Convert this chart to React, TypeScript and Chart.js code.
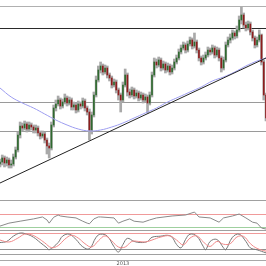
import React, { useEffect, useRef } from "react";
import { Chart, registerables } from "chart.js";

Chart.register(...registerables);

// price units (arbitrary), one candle per session
const OPEN = [36, 38, 42, 37, 40, 35, 36, 43, 50, 65, 74, 72, 76, 71, 75, 73, 70, 72, 67, 64, 66, 60, 54, 52, 75, 92, 96, 100, 94, 98, 102, 97, 100, 93, 95, 90, 96, 94, 99, 92, 88, 70, 85, 105, 120, 130, 134, 128, 132, 125, 122, 115, 118, 110, 105, 100, 115, 125, 108, 105, 110, 104, 107, 102, 105, 100, 103, 97, 105, 125, 138, 135, 140, 132, 136, 130, 134, 128, 132, 138, 142, 148, 152, 155, 150, 156, 160, 154, 158, 150, 142, 138, 142, 145, 150, 148, 152, 145, 150, 142, 132, 140, 155, 160, 162, 167, 164, 170, 180, 185, 175, 172, 176, 168, 162, 155, 160, 165, 138, 105];
const CLOSE = [38, 42, 37, 40, 35, 36, 43, 50, 65, 74, 72, 76, 71, 75, 73, 70, 72, 67, 64, 66, 60, 54, 52, 75, 92, 96, 100, 94, 98, 102, 97, 100, 93, 95, 90, 96, 94, 99, 92, 88, 70, 85, 105, 120, 130, 134, 128, 132, 125, 122, 115, 118, 110, 105, 100, 115, 125, 108, 105, 110, 104, 107, 102, 105, 100, 103, 97, 105, 125, 138, 135, 140, 132, 136, 130, 134, 128, 132, 138, 142, 148, 152, 155, 150, 156, 160, 154, 158, 150, 142, 138, 142, 145, 150, 148, 152, 145, 150, 142, 132, 140, 155, 160, 162, 167, 164, 170, 180, 185, 175, 172, 176, 168, 162, 155, 160, 165, 138, 105, 82];
const HIGH = [41, 45, 44, 43, 42, 40, 46, 53, 68, 78, 77, 79, 78, 78, 77, 75, 75, 74, 69, 69, 68, 62, 57, 78, 95, 100, 104, 102, 101, 106, 104, 103, 102, 98, 97, 99, 98, 102, 101, 94, 91, 88, 108, 124, 134, 138, 136, 135, 134, 127, 124, 121, 120, 112, 107, 118, 131, 127, 111, 113, 112, 110, 109, 108, 107, 106, 105, 108, 128, 142, 141, 143, 142, 139, 138, 137, 136, 135, 141, 145, 151, 155, 158, 157, 159, 163, 162, 167, 160, 152, 144, 145, 148, 153, 152, 155, 154, 153, 152, 144, 143, 158, 163, 166, 170, 169, 174, 184, 193, 187, 178, 179, 178, 170, 164, 163, 170, 166, 140, 107];
const LOW = [33, 35, 33, 34, 32, 32, 34, 41, 48, 62, 69, 70, 68, 69, 70, 67, 67, 64, 61, 62, 57, 46, 42, 50, 73, 89, 94, 91, 92, 96, 94, 95, 90, 90, 87, 88, 91, 92, 89, 85, 60, 66, 83, 103, 118, 127, 125, 126, 122, 119, 112, 113, 107, 100, 88, 98, 113, 104, 102, 103, 101, 102, 99, 100, 97, 98, 87, 95, 103, 123, 132, 133, 129, 130, 127, 128, 125, 126, 130, 136, 140, 146, 150, 147, 148, 154, 151, 152, 147, 139, 135, 136, 140, 143, 145, 146, 142, 143, 139, 128, 130, 138, 153, 157, 160, 161, 162, 168, 176, 172, 169, 170, 165, 159, 152, 153, 158, 135, 100, 79];

// moving average read at every 5th session
const MA_POINTS: [number, number][] = [
  [0, 112], [5, 103], [10, 97], [15, 92], [20, 86], [25, 80], [30, 75], [35, 71], [40, 69], [45, 70],
  [50, 73], [55, 77], [60, 82], [65, 87], [70, 92], [75, 98], [80, 103], [85, 108], [90, 113], [95, 119],
  [100, 123], [105, 128], [110, 134], [115, 139], [119, 142],
];
const TREND = [17, 142]; // trendline value at first and last session
const PRICE_LEVELS = [68, 98, 172, 194];
const PRICE_LEVEL_COLORS = ["#9a9a9a", "#9a9a9a", "#2a2a2a", "#b0b0b0"];

const RSI_POINTS: [number, number][] = [
  [0, 33], [4, 42], [9, 48], [15, 55], [19, 61], [21, 52], [22, 42], [24, 60], [26, 67], [27, 64], [30, 61],
  [34, 58], [37, 48], [39, 42], [40, 40], [42, 55], [44, 61], [45, 61], [51, 58], [53, 42], [55, 48],
  [58, 55], [60, 48], [64, 45], [67, 52], [70, 58], [77, 64], [83, 67], [87, 76], [89, 61], [94, 58],
  [98, 45], [100, 58], [104, 64], [107, 70], [110, 58], [113, 45], [115, 42], [117, 27], [119, 24],
];
const RSI_LEVELS = [30, 70];
const RSI_RANGE = [21, 113];

const STOCH_K_POINTS: [number, number][] = [
  [0, 46], [3, 50], [6, 69], [9, 80], [12, 76], [15, 65], [18, 46], [21, 27], [22, 20], [26, 46], [28, 69],
  [31, 76], [34, 57], [37, 31], [40, 24], [43, 65], [45, 76], [48, 69], [51, 31], [53, 12], [55, 39],
  [57, 61], [60, 50], [63, 46], [66, 50], [68, 65], [72, 69], [75, 72], [77, 65], [79, 39], [81, 27],
  [83, 57], [85, 76], [88, 69], [91, 31], [92, 20], [94, 50], [97, 57], [100, 27], [101, 20], [104, 65],
  [107, 76], [110, 50], [112, 27], [115, 20], [119, 9],
];
const STOCH_D_POINTS: [number, number][] = [
  [0, 55], [4, 48], [8, 62], [11, 76], [14, 74], [17, 62], [20, 45], [23, 28], [26, 35], [29, 58], [32, 72],
  [35, 62], [38, 42], [41, 30], [44, 52], [47, 70], [50, 52], [53, 30], [56, 30], [59, 50], [62, 50],
  [65, 48], [68, 55], [72, 66], [76, 70], [79, 55], [82, 38], [85, 62], [88, 70], [91, 48], [94, 32],
  [97, 50], [100, 40], [103, 42], [106, 66], [109, 68], [112, 42], [115, 25], [119, 15],
];
const STOCH_LEVELS = [20, 80];
const STOCH_RANGE = [5, 91];

const YEAR_LABEL = "2013";
const YEAR_INDEX = 55;

const N = CLOSE.length;

function sparse(points: [number, number][]) {
  const arr: (number | null)[] = new Array(N).fill(null);
  points.forEach(([i, v]) => (arr[i] = v));
  return arr;
}

const zeroWidth = (s: any) => {
  s.width = 0;
};

export default function App() {
  const ref = useRef<HTMLCanvasElement>(null);
  useEffect(() => {
    if (!ref.current) return;
    const labels = CLOSE.map((_, i) => String(i));
    const trend: (number | null)[] = new Array(N).fill(null);
    trend[0] = TREND[0];
    trend[N - 1] = TREND[1];
    const lineBase = { type: "line" as const, pointRadius: 0, borderWidth: 1, spanGaps: true, fill: false };
    const chart = new Chart(ref.current, {
      type: "bar",
      data: {
        labels,
        datasets: [
          { ...lineBase, data: trend, borderColor: "#222", yAxisID: "y" },
          { ...lineBase, data: sparse(MA_POINTS), borderColor: "#9d9df0", tension: 0.4, yAxisID: "y" },
          { ...lineBase, data: sparse(RSI_POINTS), borderColor: "#8a8a8a", yAxisID: "yRsi" },
          { ...lineBase, data: sparse(STOCH_D_POINTS), borderColor: "#f08a8a", tension: 0.4, yAxisID: "yStoch" },
          { ...lineBase, data: sparse(STOCH_K_POINTS), borderColor: "#777", tension: 0.4, yAxisID: "yStoch" },
          {
            type: "bar",
            data: OPEN.map((o, i) => [o, CLOSE[i]]) as any,
            backgroundColor: CLOSE.map((c, i) => (c >= OPEN[i] ? "#2f6a2f" : "#8e1d1d")),
            barThickness: 1,
            grouped: false,
            yAxisID: "y",
          } as any,
          {
            type: "bar",
            data: LOW.map((l, i) => [l, HIGH[i]]) as any,
            backgroundColor: "#a9a9a9",
            barThickness: 2,
            grouped: false,
            yAxisID: "y",
          } as any,
        ],
      },
      options: {
        animation: false,
        responsive: false,
        layout: { padding: 0 },
        plugins: { legend: { display: false }, tooltip: { enabled: false } },
        scales: {
          x: {
            offset: false,
            grid: { display: false, drawTicks: false },
            border: { display: true, color: "#a8a8a8" },
            afterFit: (s: any) => {
              s.height = 6;
              s.paddingLeft = 0;
              s.paddingRight = 0;
            },
            ticks: {
              autoSkip: false,
              maxRotation: 0,
              padding: 1,
              font: { size: 5, family: "DejaVu Sans" },
              color: "#555",
              callback: (_v: any, i: number) => (i === YEAR_INDEX ? YEAR_LABEL : ""),
            },
          },
          y: {
            position: "left",
            stack: "panels",
            stackWeight: 200,
            weight: 4,
            min: 0,
            max: 200,
            afterFit: zeroWidth,
            ticks: { display: false },
            border: { display: false },
            grid: { drawTicks: false, color: (c: any) => PRICE_LEVEL_COLORS[c.index] },
            afterBuildTicks: (s: any) => {
              s.ticks = PRICE_LEVELS.map((v) => ({ value: v }));
            },
          },
          yRsi: {
            position: "left",
            stack: "panels",
            stackWeight: 30,
            weight: 3,
            min: RSI_RANGE[0],
            max: RSI_RANGE[1],
            afterFit: zeroWidth,
            ticks: { display: false },
            border: { display: false },
            grid: {
              drawTicks: false,
              color: (c: any) => ["#a0a0a0", "#9fd09f", "#f09a9a", "#a0a0a0"][c.index],
            },
            afterBuildTicks: (s: any) => {
              s.ticks = [RSI_RANGE[0], ...RSI_LEVELS, RSI_RANGE[1]].map((v) => ({ value: v }));
            },
          },
          yStoch: {
            position: "left",
            stack: "panels",
            stackWeight: 24,
            weight: 2,
            min: STOCH_RANGE[0],
            max: STOCH_RANGE[1],
            afterFit: zeroWidth,
            ticks: { display: false },
            border: { display: false },
            grid: {
              drawTicks: false,
              color: (c: any) => ["#a0a0a0", "#909090", "#f09a9a", "#a0a0a0"][c.index],
            },
            afterBuildTicks: (s: any) => {
              s.ticks = [STOCH_RANGE[0], ...STOCH_LEVELS, STOCH_RANGE[1]].map((v) => ({ value: v }));
            },
          },
          yBand: {
            position: "left",
            stack: "panels",
            stackWeight: 6,
            weight: 1,
            min: 0,
            max: 1,
            afterFit: zeroWidth,
            ticks: { display: false },
            border: { display: false },
            grid: { display: false },
          },
        },
      } as any,
    });
    return () => chart.destroy();
  }, []);
  return (
    <div style={{ position: "fixed", left: 0, top: 0, width: 266, height: 266, background: "#fff" }}>
      <canvas ref={ref} width={266} height={266} />
    </div>
  );
}
